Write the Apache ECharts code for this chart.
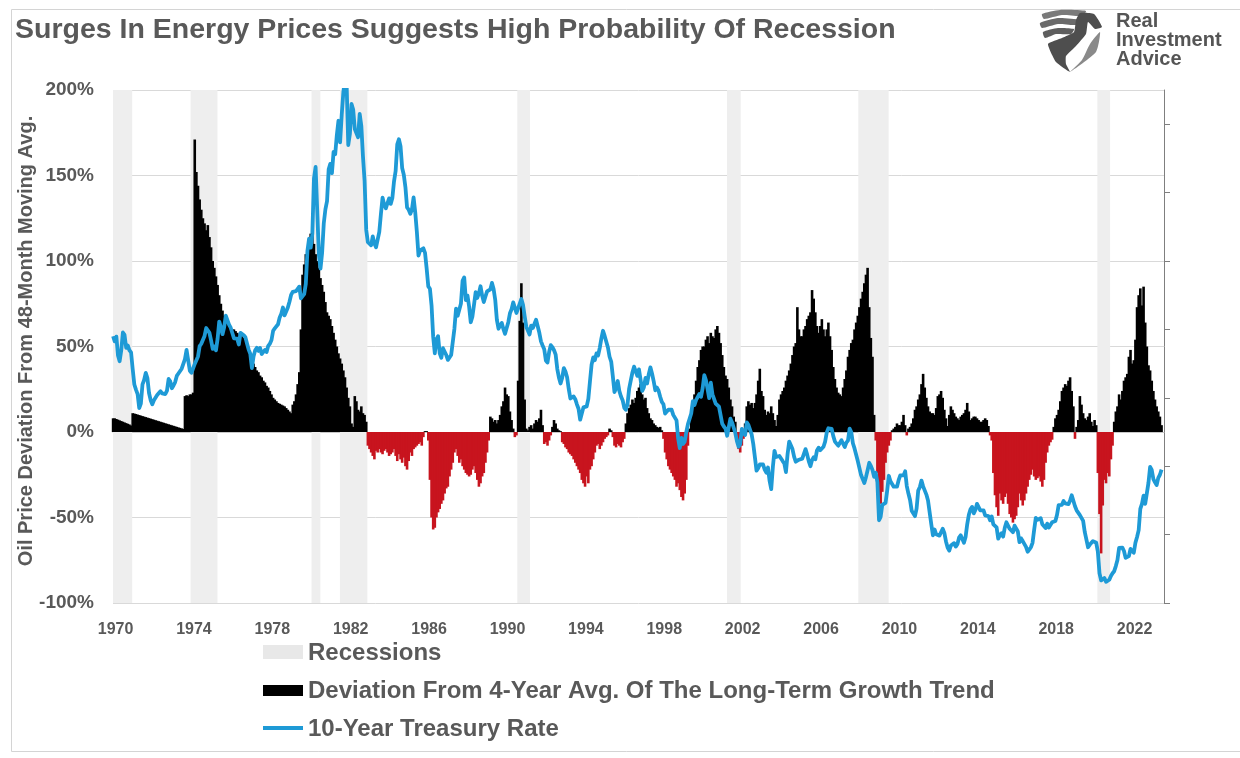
<!DOCTYPE html>
<html>
<head>
<meta charset="utf-8">
<title>Surges In Energy Prices Suggests High Probability Of Recession</title>
<script src="https://cdn.jsdelivr.net/npm/echarts@6/dist/echarts.min.js"></script>
<style>
  html, body { margin: 0; padding: 0; background: #ffffff; }
  #chart { width: 1240px; height: 758px; }
</style>
</head>
<body>
<div id="chart"></div>
<script>
// ---- Data (monthly, first value = Nov 1969) ----

// Oil price deviation from its 48-month moving average, % (Nov 1969 - Dec 1979)
const oil70s = [
  8, 8,
  7.6, 7.2, 6.8, 6.4, 6, 5.6, 5.2, 4.8, 4.4, 3.8, 11, 10.8,
  10.5, 10.2, 9.9, 9.6, 9.3, 9, 8.7, 8.4, 8.1, 7.8, 7.5, 7.2,
  6.9, 6.6, 6.3, 6, 5.7, 5.4, 5.1, 4.8, 4.5, 4.2, 3.9, 3.6,
  3.3, 3, 2.7, 2.4, 2.1, 1.8, 21, 21.5, 21, 22, 22, 23,
  171, 152, 144, 136, 130, 125, 122, 118, 121, 114, 108, 100,
  96, 91, 86, 80, 75, 71, 68, 66, 64, 62, 61, 60,
  60, 59, 58, 57, 58, 56, 55, 52, 50, 47, 44, 41,
  40, 38, 36, 35, 33, 32, 30, 29, 27, 26, 24, 22,
  20, 19, 18, 17, 16.5, 16, 15.5, 15, 14, 13, 12, 11,
  16, 18, 22, 28, 35, 60, 92, 98, 104, 108, 113, 116
];
const oil80s = [
  118, 110, 104, 100, 96, 90, 86, 82, 76, 70, 68, 66,
  62, 58, 54, 50, 46, 43, 40, 36, 32, 26, 20, 15,
  5, 3, 21, 18, 13, 12, 15, 11, 10, 6, -8, -10,
  -12, -14, -16, -11, -12, -10, -12, -13, -11, -10, -12, -14,
  -13, -12, -10, -14, -17, -13, -16, -18, -15, -20, -22, -17,
  -12, -14, -10, -9, -8, -7, -6, -8, -3, 0.5, 0.5, -5,
  -28, -50, -57, -56, -50, -47, -45, -42, -40, -36, -33, -32,
  -26, -22, -18, -12, -10, -14, -18, -16, -20, -22, -24, -25,
  -26, -25, -22, -20, -24, -28, -32, -30, -26, -24, -18, -12,
  -5, 9, 8, 6, 7, 5, 7, 10, 15, 18, 26, 22
];
const oil90s = [
  21, 12, 7, 2, -3, -2, 30, 65, 87, 64, 19, 2,
  1, 3, 4, 2, 5, 7, 6, 8, 13, 4, -7, -6,
  -8, -5, -2, 3, 7, 5, 2, 1, 0.5, -6, -7, -9,
  -10, -12, -13, -14, -16, -18, -20, -22, -24, -28, -30, -32,
  -26, -30, -22, -20, -16, -12, -8, -7, -10, -8, -6, -4,
  -3, -2, 2, 1, -3, -8, -9, -7, -8, -9, -6, -4,
  5, 11, 14, 16, 19, 17, 20, 24, 26, 28, 22, 19,
  20, 14, 11, 8, 7, 5, 4, 3, 2.5, 3, 1, -4,
  -12, -16, -20, -22, -24, -26, -28, -32, -30, -34, -38, -40,
  -36, -28, -8, 2, 10, 15, 22, 30, 38, 42, 48, 50
];
const oil00s = [
  50, 54, 56, 52, 58, 56, 55, 60, 62, 58, 52, 45,
  38, 33, 31, 26, 19, 15, 9, 6, -4, -10, -12, -8,
  -4, 5, 15, 18, 16, 17, 14, 17, 22, 30, 37, 24,
  21, 13, 10, 12, 11, 15, 11, 7, 3.5, 10, 19, 22,
  24, 26, 30, 33, 36, 40, 45, 50, 52, 73, 60, 56,
  56, 60, 62, 66, 68, 70, 83, 78, 70, 62, 58, 62,
  66, 60, 56, 60, 64, 56, 48, 38, 31, 26, 23, 22,
  21, 26, 31, 36, 44, 48, 52, 54, 60, 64, 68, 73,
  78, 82, 87, 92, 96, 73, 55, 44, 10, -5, -24, -40,
  -42, -35, -28, -18, -12, -8, -5, 1, 2, 3, 5, 4
];
const oil10s = [
  4, 6, 10, 4, -2, 2, 3, 5, 8, 13, 15, 19,
  22, 28, 34, 26, 20, 15, 12, 11, 11, 10, 14, 21,
  22, 24, 20, 13, 8, 3.5, 10, 15, 13, 11, 9, 8,
  7, 9, 10, 11, 13, 17, 12, 7, 8, 9, 9, 8,
  7, 6, 6, 7, 8, 7, 3.5, -2, -5, -24, -37, -44,
  -49, -36, -40, -42, -38, -36, -42, -48, -50, -53, -51, -49,
  -44, -36, -40, -43, -40, -36, -32, -28, -25, -22, -26, -28,
  -27, -26, -29, -32, -28, -18, -12, -8, -6, -4.5, 3, 8,
  10, 13, 18, 24, 26, 28, 27, 30, 32, 24, 15, -4,
  3, 7, 21, 16, 11, 8, 7, 9, 11, 6, 3.5, 7
];
const oil20s = [
  4, -24, -48, -71, -43, -28, -30, -24, -26, -16, -8, 6,
  12, 15, 22, 19, 24, 30, 32, 34, 44, 48, 40, 42,
  54, 73, 80, 84, 74, 85, 64, 50, 39, 36, 30, 24,
  19, 15, 12, 9, 4
];

// 10-year Treasury yield, % (Nov 1969 - Dec 1979)
const ust70s = [
  7.8, 7.65,
  7.79, 7.24, 7.07, 7.39, 7.91, 7.84, 7.46, 7.53, 7.39, 7.33, 6.84, 6.39,
  6.24, 6.11, 5.70, 5.83, 6.39, 6.52, 6.73, 6.58, 6.14, 5.93, 5.81, 5.93,
  5.95, 6.08, 6.07, 6.19, 6.13, 6.11, 6.11, 6.21, 6.55, 6.48, 6.28, 6.36,
  6.46, 6.64, 6.71, 6.67, 6.85, 6.90, 7.13, 7.40, 7.09, 6.79, 6.73, 6.74,
  6.99, 6.96, 7.21, 7.51, 7.58, 7.54, 7.81, 8.04, 8.04, 7.90, 7.68, 7.43,
  7.50, 7.39, 7.73, 8.23, 8.06, 7.86, 8.06, 8.40, 8.43, 8.14, 8.05, 8.00,
  7.74, 7.79, 7.73, 7.56, 7.90, 7.86, 7.83, 7.77, 7.59, 7.41, 7.29, 6.87,
  7.21, 7.39, 7.46, 7.37, 7.46, 7.28, 7.33, 7.40, 7.34, 7.52, 7.58, 7.69,
  7.96, 8.03, 8.04, 8.15, 8.35, 8.46, 8.64, 8.41, 8.42, 8.64, 8.81, 9.01,
  9.10, 9.10, 9.12, 9.18, 9.25, 8.91, 8.95, 9.03, 9.33, 10.30, 10.65, 10.39
];
const ust80s = [
  10.80, 12.41, 12.75, 11.47, 10.18, 9.78, 10.25, 11.10, 11.51, 11.75, 12.68, 12.84,
  12.57, 13.19, 13.12, 13.68, 14.10, 13.47, 14.28, 14.94, 15.32, 15.15, 13.39, 13.72,
  14.59, 14.43, 13.86, 13.87, 13.62, 14.30, 13.95, 13.06, 12.34, 10.91, 10.55, 10.54,
  10.46, 10.72, 10.51, 10.40, 10.38, 10.85, 11.38, 11.85, 11.65, 11.54, 11.69, 11.83,
  11.67, 11.84, 12.32, 12.63, 13.41, 13.56, 13.36, 12.72, 12.52, 12.16, 11.57, 11.50,
  11.38, 11.51, 11.86, 11.43, 10.85, 10.16, 10.31, 10.33, 10.37, 10.24, 9.78, 9.26,
  9.19, 8.70, 7.78, 7.30, 7.71, 7.80, 7.30, 7.17, 7.45, 7.43, 7.25, 7.11,
  7.08, 7.25, 7.25, 8.02, 8.61, 8.40, 8.45, 8.76, 9.42, 9.52, 8.86, 8.99,
  8.67, 8.21, 8.37, 8.72, 9.09, 8.92, 9.06, 9.26, 8.98, 8.80, 8.96, 9.11,
  9.09, 9.17, 9.36, 9.18, 8.86, 8.28, 8.02, 8.11, 8.19, 8.01, 7.87, 7.84
];
const ust90s = [
  8.21, 8.47, 8.59, 8.79, 8.76, 8.48, 8.47, 8.75, 8.89, 8.72, 8.39, 8.08,
  8.09, 7.85, 8.11, 8.04, 8.07, 8.28, 8.27, 7.90, 7.65, 7.53, 7.42, 7.09,
  7.03, 7.34, 7.54, 7.48, 7.39, 7.26, 6.84, 6.59, 6.42, 6.59, 6.87, 6.77,
  6.60, 6.26, 5.98, 5.97, 6.04, 5.96, 5.81, 5.68, 5.36, 5.33, 5.72, 5.77,
  5.75, 5.97, 6.48, 6.97, 7.18, 7.10, 7.30, 7.24, 7.46, 7.74, 7.96, 7.81,
  7.78, 7.47, 7.20, 7.06, 6.63, 6.17, 6.28, 6.49, 6.20, 6.04, 5.93, 5.71,
  5.65, 5.81, 6.27, 6.51, 6.74, 6.91, 6.87, 6.64, 6.83, 6.53, 6.20, 6.30,
  6.58, 6.42, 6.69, 6.89, 6.71, 6.49, 6.22, 6.30, 6.21, 6.03, 5.88, 5.81,
  5.54, 5.57, 5.65, 5.64, 5.65, 5.50, 5.46, 5.34, 4.81, 4.53, 4.83, 4.65,
  4.72, 5.00, 5.23, 5.18, 5.54, 5.90, 5.79, 5.94, 5.92, 6.11, 6.03, 6.28
];
const ust00s = [
  6.66, 6.52, 6.26, 5.99, 6.44, 6.10, 6.05, 5.83, 5.80, 5.74, 5.72, 5.24,
  5.16, 5.10, 4.89, 5.14, 5.39, 5.28, 5.24, 4.97, 4.73, 4.57, 4.65, 5.09,
  5.04, 4.91, 5.28, 5.21, 5.16, 4.93, 4.65, 4.26, 3.87, 3.94, 4.05, 4.03,
  4.05, 3.90, 3.81, 3.96, 3.57, 3.33, 3.98, 4.45, 4.27, 4.29, 4.30, 4.27,
  4.15, 4.08, 3.83, 4.35, 4.72, 4.73, 4.50, 4.28, 4.13, 4.10, 4.19, 4.23,
  4.22, 4.17, 4.50, 4.34, 4.14, 4.00, 4.18, 4.26, 4.20, 4.46, 4.54, 4.47,
  4.42, 4.57, 4.72, 4.99, 5.11, 5.11, 5.09, 4.88, 4.72, 4.73, 4.60, 4.56,
  4.76, 4.72, 4.56, 4.69, 4.75, 5.10, 5.00, 4.67, 4.52, 4.53, 4.15, 4.10,
  3.74, 3.74, 3.51, 3.68, 3.88, 4.10, 4.01, 3.89, 3.69, 3.81, 3.53, 2.42,
  2.52, 2.87, 2.82, 2.93, 3.29, 3.72, 3.56, 3.59, 3.40, 3.39, 3.40, 3.59
];
const ust10s = [
  3.73, 3.69, 3.73, 3.85, 3.42, 3.20, 3.01, 2.70, 2.65, 2.54, 2.76, 3.29,
  3.39, 3.58, 3.41, 3.46, 3.17, 3.00, 3.00, 2.30, 1.98, 2.15, 2.01, 1.98,
  1.97, 1.97, 2.17, 2.05, 1.80, 1.62, 1.53, 1.68, 1.72, 1.75, 1.65, 1.72,
  1.91, 1.98, 1.96, 1.76, 1.93, 2.30, 2.58, 2.74, 2.81, 2.62, 2.72, 2.90,
  2.86, 2.71, 2.72, 2.71, 2.56, 2.60, 2.54, 2.42, 2.53, 2.30, 2.33, 2.21,
  1.88, 1.98, 2.04, 1.94, 2.20, 2.36, 2.32, 2.17, 2.17, 2.07, 2.26, 2.24,
  2.09, 1.78, 1.89, 1.81, 1.81, 1.64, 1.50, 1.56, 1.63, 1.76, 2.14, 2.49,
  2.43, 2.42, 2.48, 2.30, 2.30, 2.19, 2.32, 2.21, 2.20, 2.36, 2.35, 2.40,
  2.58, 2.86, 2.84, 2.87, 2.98, 2.91, 2.89, 2.89, 3.00, 3.15, 3.12, 2.83,
  2.71, 2.68, 2.57, 2.53, 2.40, 2.07, 2.06, 1.63, 1.70, 1.71, 1.81, 1.86
];
const ust20s = [
  1.76, 1.50, 0.87, 0.66, 0.67, 0.73, 0.62, 0.65, 0.68, 0.79, 0.87, 0.93,
  1.08, 1.26, 1.61, 1.64, 1.62, 1.52, 1.32, 1.28, 1.37, 1.58, 1.56, 1.47,
  1.76, 1.93, 2.13, 2.75, 2.90, 3.14, 2.90, 2.90, 3.52, 3.98, 3.89, 3.62,
  3.53, 3.45, 3.66, 3.75, 3.90
];

// NBER recessions as [start, end] in decimal years
const recessions = [
  [1969.87, 1970.85], [1973.83, 1975.2], [1980.0, 1980.45], [1981.45, 1982.85],
  [1990.5, 1991.15], [2001.2, 2001.9], [2007.9, 2009.45], [2020.1, 2020.75]
];

// Axis ticks
const yearTicks = [1970, 1974, 1978, 1982, 1986, 1990, 1994, 1998, 2002, 2006, 2010, 2014, 2018, 2022];
const rateTicks = [0, 2, 4, 6, 8, 10, 12, 14];

// ---- Helpers ----
const FIRST_MONTH = 1969 + 10 / 12;  // November 1969
function monthly(blocks) {
  const vals = [].concat(...blocks);
  return vals.map((v, i) => [FIRST_MONTH + (i + 0.5) / 12, v]);
}
const oilSeries = monthly([oil70s, oil80s, oil90s, oil00s, oil10s, oil20s]);
const rateSeries = monthly([ust70s, ust80s, ust90s, ust00s, ust10s, ust20s]);

const FONT = '"Liberation Sans", Arial, Helvetica, sans-serif';
const GREY_TEXT = '#595959';
const BLUE = '#1E9AD6';
const RED = '#C8141E';

const chart = echarts.init(document.getElementById('chart'), null, { renderer: 'canvas' });

const option = {
  backgroundColor: '#ffffff',
  animation: false,
  textStyle: { fontFamily: FONT },
  grid: { left: 113, right: 76, top: 90, bottom: 155 },
  xAxis: {
    type: 'value',
    min: 1969.87,
    max: 2023.5,
    axisLine: { show: true, lineStyle: { color: '#C8C8C8', width: 1 } },
    axisTick: { show: false },
    splitLine: { show: false },
    axisLabel: {
      customValues: yearTicks,
      formatter: v => String(Math.round(v)),
      color: GREY_TEXT,
      fontFamily: FONT,
      fontWeight: 'bold',
      fontSize: 16,
      margin: 19
    }
  },
  yAxis: [
    {
      type: 'value',
      min: -100,
      max: 200,
      interval: 50,
      axisLine: { show: false },
      axisTick: { show: false },
      splitLine: { show: true, lineStyle: { color: '#D9D9D9', width: 1 } },
      axisLabel: {
        formatter: '{value}%',
        color: GREY_TEXT,
        fontFamily: FONT,
        fontWeight: 'bold',
        fontSize: 19,
        margin: 19
      }
    },
    {
      type: 'value',
      position: 'right',
      min: 0,
      max: 15,
      interval: 2,
      axisLine: { show: true, lineStyle: { color: '#7F7F7F', width: 1 } },
      axisTick: { show: true, inside: false, length: 6, customValues: rateTicks, lineStyle: { color: '#7F7F7F' } },
      axisLabel: { show: false },
      splitLine: { show: false }
    }
  ],
  series: [
    {
      name: 'Recessions',
      type: 'custom',
      xAxisIndex: 0,
      yAxisIndex: 0,
      z: 1,
      silent: true,
      clip: true,
      encode: { x: [0, 1] },
      data: recessions,
      renderItem: function (params, api) {
        const p0 = api.coord([api.value(0), 200]);
        const p1 = api.coord([api.value(1), -100]);
        return {
          type: 'rect',
          shape: { x: p0[0], y: p0[1], width: p1[0] - p0[0], height: p1[1] - p0[1] },
          style: { fill: '#EEEEEE' }
        };
      }
    },
    {
      name: 'Deviation From 4-Year Avg. Of The Long-Term Growth Trend',
      type: 'bar',
      xAxisIndex: 0,
      yAxisIndex: 0,
      z: 3,
      barWidth: 2.6,
      silent: true,
      data: oilSeries,
      itemStyle: {
        color: p => (p.value[1] >= 0 ? '#000000' : RED)
      }
    },
    {
      name: '10-Year Treasury Rate',
      type: 'line',
      xAxisIndex: 0,
      yAxisIndex: 1,
      z: 4,
      silent: true,
      showSymbol: false,
      symbol: 'none',
      clip: true,
      data: rateSeries,
      lineStyle: { color: BLUE, width: 3.8, join: 'round' }
    }
  ],
  graphic: [
    // outer frame
    {
      type: 'rect', silent: true, z: -1,
      shape: { x: 11.5, y: 9.5, width: 1240, height: 742 },
      style: { fill: 'none', stroke: '#D4D4D4', lineWidth: 1 }
    },
    // title
    {
      type: 'text', x: 15, y: 30,
      style: { text: 'Surges In Energy Prices Suggests High Probability Of Recession', fill: GREY_TEXT, font: 'bold 28.5px ' + FONT, textVerticalAlign: 'middle' }
    },
    // vertical axis title
    {
      type: 'text', x: 26, y: 341, rotation: Math.PI / 2,
      style: {
        text: 'Oil Price Deviation From 48-Month Moving Avg.',
        fill: GREY_TEXT, font: 'bold 20px ' + FONT,
        textAlign: 'center', textVerticalAlign: 'middle'
      }
    },
    // brand mark: feathered wing and shield-shaped body
    {
      type: 'group', x: 1040, y: 8,
      children: [
        { type: 'polygon', shape: { points: [[2, 6], [20, 2], [46, 3], [42, 8], [22, 7], [4, 11]], smooth: 0.2 }, style: { fill: '#7A7A7A' } },
        { type: 'polygon', shape: { points: [[0, 15], [18, 10], [40, 12], [36, 17], [18, 16], [2, 20]], smooth: 0.2 }, style: { fill: '#6A6A6A' } },
        { type: 'polygon', shape: { points: [[3, 24], [18, 20], [34, 21], [31, 26], [16, 26], [5, 30]], smooth: 0.2 }, style: { fill: '#5E5E5E' } },
        { type: 'polygon', shape: { points: [[40, 5], [54, 6], [62, 19], [55, 21], [48, 14], [46, 26], [36, 38], [26, 48], [26, 56], [30, 64], [16, 54], [8, 36], [22, 30], [34, 24], [36, 12]], smooth: 0.15 }, style: { fill: '#4E4E4E' } },
        { type: 'polygon', shape: { points: [[30, 64], [42, 52], [50, 36], [60, 24], [56, 44]], smooth: 0.2 }, style: { fill: '#8A8A8A' } }
      ]
    },
    { type: 'text', x: 1116, y: 21, style: { text: 'Real', fill: '#555555', font: 'bold 20px ' + FONT, textVerticalAlign: 'middle' } },
    { type: 'text', x: 1116, y: 40, style: { text: 'Investment', fill: '#555555', font: 'bold 20px ' + FONT, textVerticalAlign: 'middle' } },
    { type: 'text', x: 1116, y: 59, style: { text: 'Advice', fill: '#555555', font: 'bold 20px ' + FONT, textVerticalAlign: 'middle' } },
    // legend
    { type: 'rect', shape: { x: 263, y: 645, width: 40, height: 14 }, style: { fill: '#E8E8E8' } },
    { type: 'text', x: 308, y: 653, style: { text: 'Recessions', fill: GREY_TEXT, font: 'bold 24px ' + FONT, textVerticalAlign: 'middle' } },
    { type: 'rect', shape: { x: 263, y: 685, width: 40, height: 11 }, style: { fill: '#000000' } },
    { type: 'text', x: 308, y: 691, style: { text: 'Deviation From 4-Year Avg. Of The Long-Term Growth Trend', fill: GREY_TEXT, font: 'bold 24px ' + FONT, textVerticalAlign: 'middle' } },
    { type: 'line', shape: { x1: 263, y1: 728, x2: 303, y2: 728 }, style: { stroke: BLUE, lineWidth: 4 } },
    { type: 'text', x: 308, y: 729, style: { text: '10-Year Treasury Rate', fill: GREY_TEXT, font: 'bold 24px ' + FONT, textVerticalAlign: 'middle' } }
  ]
};

chart.setOption(option);
</script>
</body>
</html>
